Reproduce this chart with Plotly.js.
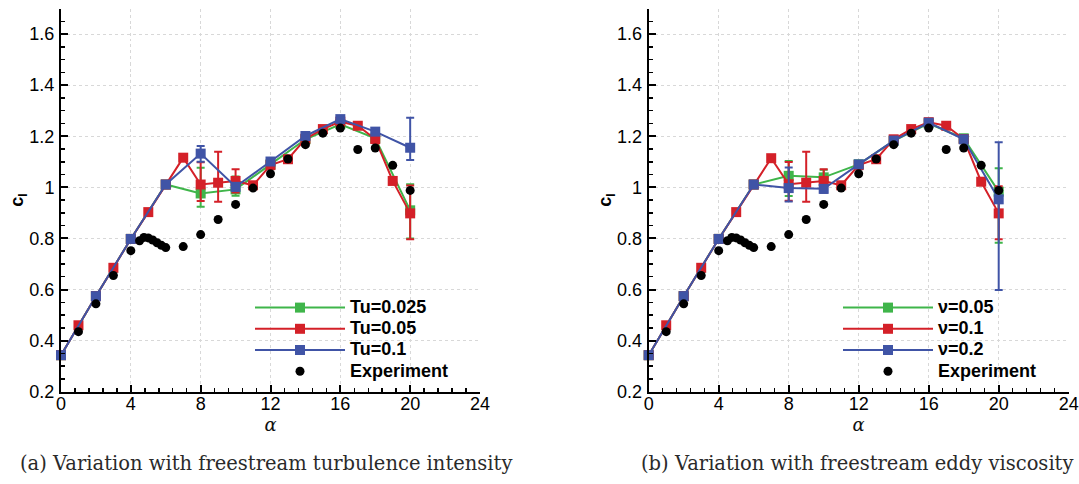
<!DOCTYPE html>
<html>
<head>
<meta charset="utf-8">
<script src="https://cdn.plot.ly/plotly-3.0.1.min.js"></script>
<style>html,body{margin:0;padding:0;background:#fff;}#chart{width:1079px;height:484px;}</style>
</head>
<body>
<div id="chart"></div>
<script>
// ---- data ----
const alphaEven = [0, 2, 4, 6, 8, 10, 12, 14, 16, 18, 20];
const alphaAll = [0, 1, 2, 3, 4, 5, 6, 7, 8, 9, 10, 11, 12, 13, 14, 15, 16, 17, 18, 19, 20];

// (a) turbulence intensity
const clTu025 = [0.343, 0.574, 0.798, 1.011, 0.976, 0.992, 1.090, 1.188, 1.247, 1.192, 0.910];
const errTu025Plus = [null, null, null, null, 0.101, 0.050, null, null, null, null, 0.102];
const errTu025Minus = [null, null, null, null, 0.052, 0.025, null, null, null, null, 0.110];

const clTu05 = [0.343, 0.460, 0.574, 0.685, 0.798, 0.903, 1.011, 1.116, 1.011, 1.018, 1.025, 1.008, 1.087, 1.110, 1.190, 1.228, 1.257, 1.241, 1.189, 1.025, 0.898];
const errTu05Plus = [null, null, null, null, null, null, null, null, 0.087, 0.121, 0.046, null, null, null, null, null, null, null, null, null, 0.109];
const errTu05Minus = [null, null, null, null, null, null, null, null, 0.065, 0.074, 0.045, null, null, null, null, null, null, null, null, null, 0.101];

const clTu1 = [0.343, 0.574, 0.798, 1.011, 1.132, 1.002, 1.101, 1.201, 1.267, 1.218, 1.155];
const errTu1Plus = [null, null, null, null, 0.030, 0.015, null, null, null, null, 0.117];
const errTu1Minus = [null, null, null, null, 0.032, 0.015, null, null, null, null, 0.048];

// (b) eddy viscosity
const clNu005 = [0.343, 0.574, 0.798, 1.011, 1.045, 1.039, 1.090, 1.182, 1.250, 1.192, 0.983];
const errNu005Plus = [null, null, null, null, 0.058, 0.030, null, null, null, null, 0.092];
const errNu005Minus = [null, null, null, null, 0.079, 0.030, null, null, null, null, 0.200];

const clNu01 = [0.343, 0.460, 0.574, 0.685, 0.798, 0.903, 1.011, 1.114, 1.012, 1.018, 1.025, 1.008, 1.087, 1.110, 1.188, 1.228, 1.255, 1.241, 1.189, 1.022, 0.898];
const errNu01Plus = [null, null, null, null, null, null, null, null, 0.087, 0.121, 0.046, null, null, null, null, null, null, null, null, null, 0.106];
const errNu01Minus = [null, null, null, null, null, null, null, null, 0.065, 0.074, 0.045, null, null, null, null, null, null, null, null, null, 0.101];

const clNu02 = [0.343, 0.574, 0.798, 1.011, 0.997, 0.994, 1.090, 1.183, 1.253, 1.188, 0.953];
const errNu02Plus = [null, null, null, null, 0.081, 0.015, null, null, null, null, 0.223];
const errNu02Minus = [null, null, null, null, 0.052, 0.015, null, null, null, null, 0.355];

// experiment
const alphaExp = [1, 2, 3, 4, 4.5, 4.75, 5, 5.25, 5.5, 5.75, 6, 7, 8, 9, 10, 11, 12, 13, 14, 15, 16, 17, 18, 19, 20];
const clExp = [0.435, 0.544, 0.655, 0.752, 0.791, 0.804, 0.802, 0.794, 0.783, 0.773, 0.764, 0.768, 0.815, 0.874, 0.933, 0.997, 1.053, 1.111, 1.167, 1.212, 1.232, 1.148, 1.154, 1.086, 0.988];

const namesA = ['Tu=0.025', 'Tu=0.05', 'Tu=0.1', 'Experiment'];
const namesB = ['\u03BD=0.05', '\u03BD=0.1', '\u03BD=0.2', 'Experiment'];
const captions = ['(a) Variation with freestream turbulence intensity', '(b) Variation with freestream eddy viscosity'];

// ---- style ----
const GREEN = '#3fb54a', RED = '#d42028', BLUE = '#4054a6';
const W = 1079, H = 484;
const legName = n => '<span style="font-size:18px"><b>' + n + '</b></span>';

function series(x, y, ep, em, name, color, xa, ya, leg) {
  return {
    type: 'scatter', mode: 'lines+markers', x: x, y: y, name: legName(name),
    xaxis: xa, yaxis: ya, legend: leg, cliponaxis: false,
    line: {color: color, width: 2},
    marker: {symbol: 'square', size: 10, color: color},
    error_y: {type: 'data', symmetric: false, array: ep, arrayminus: em, color: color, thickness: 2, width: 4}
  };
}
function expTrace(name, xa, ya, leg) {
  return {
    type: 'scatter', mode: 'markers', x: alphaExp, y: clExp, name: legName(name),
    xaxis: xa, yaxis: ya, legend: leg, cliponaxis: false,
    marker: {symbol: 'circle', size: 9, color: '#000'}
  };
}

const data = [
  series(alphaEven, clTu025, errTu025Plus, errTu025Minus, namesA[0], GREEN, 'x', 'y', 'legend'),
  series(alphaAll, clTu05, errTu05Plus, errTu05Minus, namesA[1], RED, 'x', 'y', 'legend'),
  series(alphaEven, clTu1, errTu1Plus, errTu1Minus, namesA[2], BLUE, 'x', 'y', 'legend'),
  expTrace(namesA[3], 'x', 'y', 'legend'),
  series(alphaEven, clNu005, errNu005Plus, errNu005Minus, namesB[0], GREEN, 'x2', 'y2', 'legend2'),
  series(alphaAll, clNu01, errNu01Plus, errNu01Minus, namesB[1], RED, 'x2', 'y2', 'legend2'),
  series(alphaEven, clNu02, errNu02Plus, errNu02Minus, namesB[2], BLUE, 'x2', 'y2', 'legend2'),
  expTrace(namesB[3], 'x2', 'y2', 'legend2')
];

const tickFont = {family: 'Liberation Sans, Arial, sans-serif', size: 18, color: '#000'};
function xAxis(domain, anchor) {
  return {
    domain: domain, anchor: anchor, range: [0, 24], tickmode: 'linear', tick0: 0, dtick: 4,
    ticks: 'inside', ticklen: 7, tickwidth: 2, tickcolor: '#000',
    showline: true, linecolor: '#000', linewidth: 2, mirror: false, zeroline: false,
    showgrid: true, gridcolor: '#d8d8d8', gridwidth: 1, griddash: 'dot',
    minor: {tickmode: 'linear', tick0: 0, dtick: 0.8, ticks: 'inside', ticklen: 4, tickwidth: 1.5, tickcolor: '#000', showgrid: false},
    tickfont: tickFont, ticklabelstandoff: -5,
    title: {text: '<i>\u03B1</i>', font: {family: 'DejaVu Serif, serif', size: 18, color: '#111'}, standoff: 1}
  };
}
function yAxis(anchor) {
  return {
    domain: [1 - 391.7 / H, 1 - 8.5 / H], anchor: anchor, range: [0.2, 1.7], tickmode: 'linear', tick0: 0.2, dtick: 0.2,
    ticks: 'inside', ticklen: 7, tickwidth: 2, tickcolor: '#000',
    showline: true, linecolor: '#000', linewidth: 2, mirror: false, zeroline: false,
    showgrid: true, gridcolor: '#d8d8d8', gridwidth: 1, griddash: 'dot',
    minor: {tickmode: 'linear', tick0: 0.2, dtick: 0.05, ticks: 'inside', ticklen: 4, tickwidth: 1.5, tickcolor: '#000', showgrid: false},
    tickfont: tickFont, ticklabelstandoff: 1,
    title: {text: '<b>c<sub>l</sub></b>', font: {family: 'Liberation Sans, Arial, sans-serif', size: 18, color: '#000'}, standoff: 1}
  };
}
function legend(xpx, ypx) {
  return {
    x: xpx / W, y: 1 - ypx / H, xanchor: 'left', yanchor: 'top', bgcolor: 'rgba(0,0,0,0)',
    borderwidth: 0, itemwidth: 90, tracegroupgap: 0,
    font: {family: 'Liberation Sans, Arial, sans-serif', size: 14, color: '#000'}
  };
}

const capFont = {family: 'DejaVu Serif, serif', size: 19.5, color: '#2a2a2a'};
const layout = {
  width: W, height: H, margin: {l: 0, r: 0, t: 0, b: 0},
  paper_bgcolor: '#fff', plot_bgcolor: '#fff', showlegend: true,
  xaxis: xAxis([61 / W, 480 / W], 'y'),
  yaxis: yAxis('x'),
  xaxis2: xAxis([648.7 / W, 1068.7 / W], 'y2'),
  yaxis2: yAxis('x2'),
  legend: legend(250, 292),
  legend2: legend(838, 292),
  annotations: [
    {text: captions[0], xref: 'paper', yref: 'paper', x: 265.5 / W, y: 1 - 463 / H, xanchor: 'center', yanchor: 'middle', showarrow: false, font: capFont},
    {text: captions[1], xref: 'paper', yref: 'paper', x: 857 / W, y: 1 - 463 / H, xanchor: 'center', yanchor: 'middle', showarrow: false, font: capFont}
  ]
};

Plotly.newPlot('chart', data, layout, {displayModeBar: false, staticPlot: true});
</script>
</body>
</html>
